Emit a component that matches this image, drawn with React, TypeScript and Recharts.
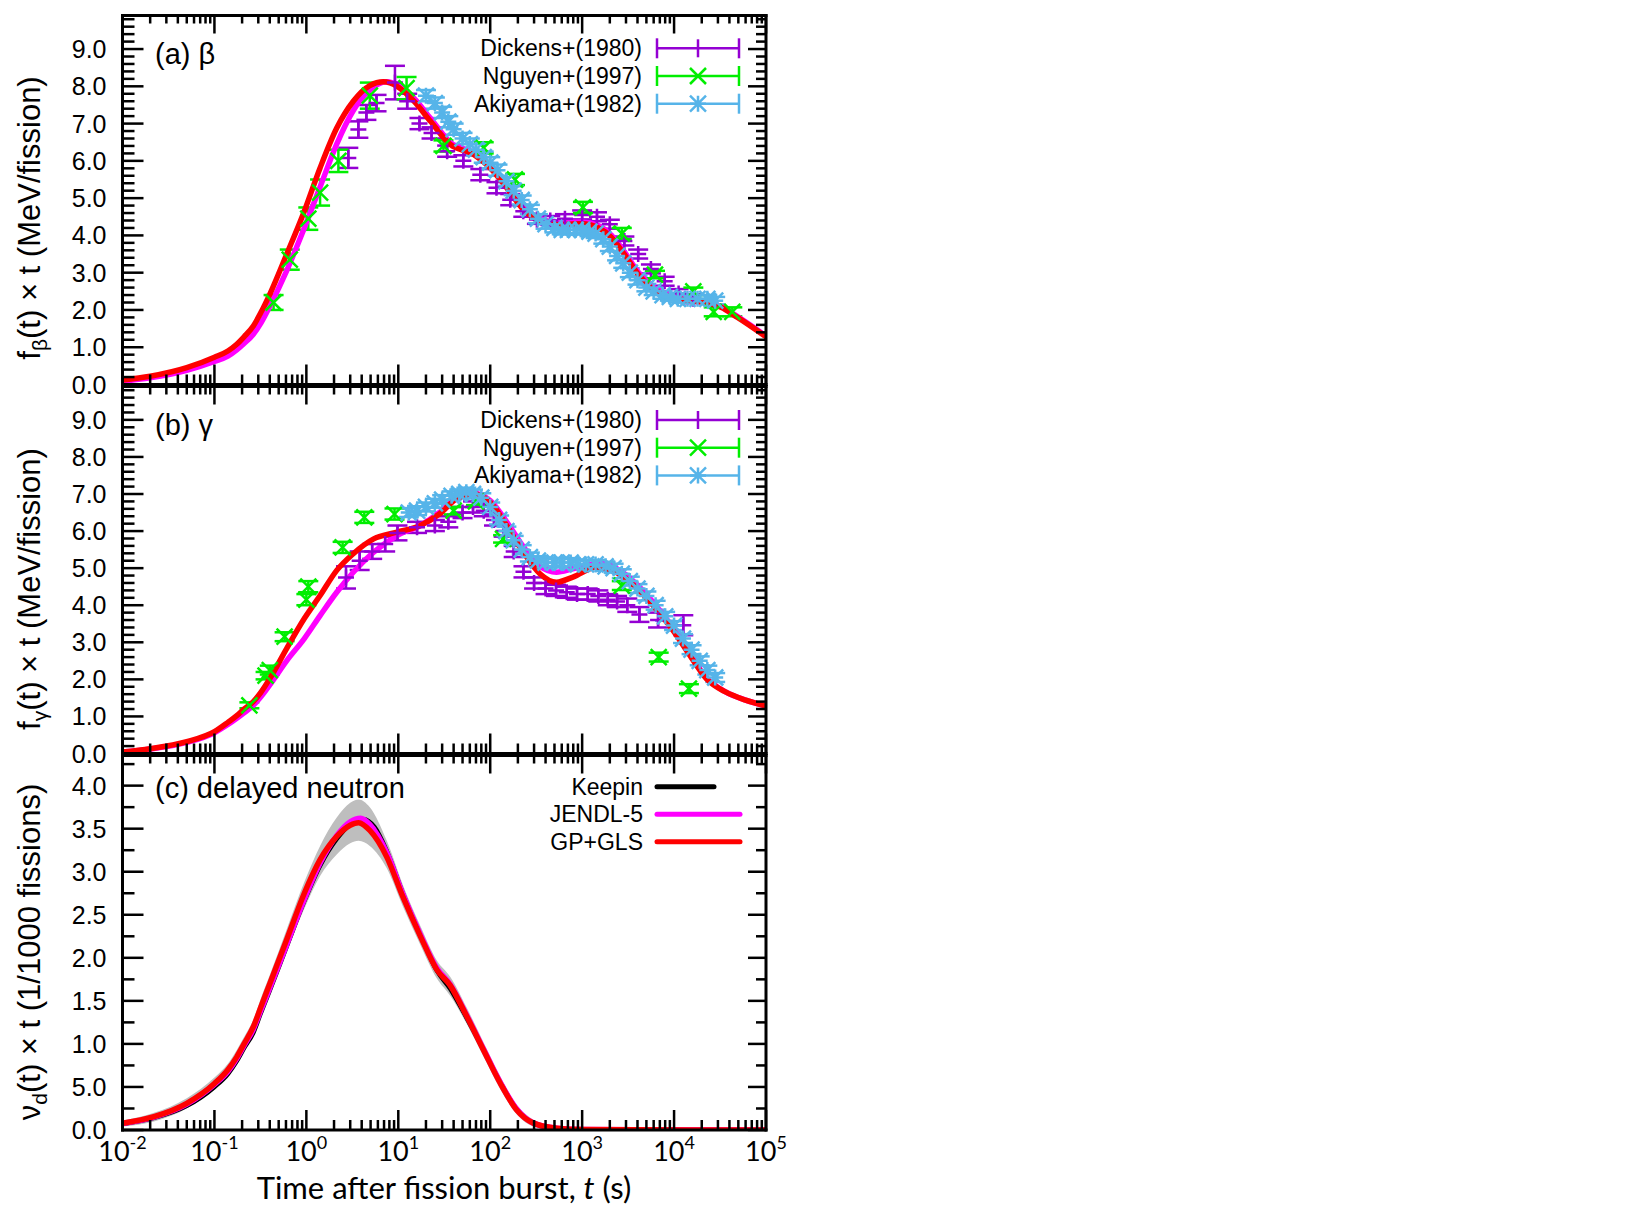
import React from "react";
import { ComposedChart, Line, Scatter, Area, XAxis, YAxis, ErrorBar } from "recharts";

type Pt = { t: number; v: number };
type ErrPt = { t: number; v: number; e: number };
type BandPt = { t: number; band: [number, number] };

// axis ticks
const xDecades = [-2, -1, 0, 1, 2, 3, 4, 5];
const xTickLabels = ["-2", "-1", "0", "1", "2", "3", "4", "5"];
const energyTickLabels = ["0.0", "1.0", "2.0", "3.0", "4.0", "5.0", "6.0", "7.0", "8.0", "9.0"];
const neutronTickLabels = ["0.0", "5.0", "1.0", "1.5", "2.0", "2.5", "3.0", "3.5", "4.0"];

const expLabels = ["Dickens+(1980)", "Nguyen+(1997)", "Akiyama+(1982)"];
const evalLabels = ["Keepin", "JENDL-5", "GP+GLS"];

// (a) beta
const betaGpGls: Pt[] = [
  { t: 0.01, v: 0.12 }, { t: 0.02, v: 0.22 }, { t: 0.05, v: 0.45 }, { t: 0.1, v: 0.73 },
  { t: 0.14, v: 0.9 }, { t: 0.175, v: 1.08 }, { t: 0.21, v: 1.28 }, { t: 0.265, v: 1.57 },
  { t: 0.32, v: 1.93 }, { t: 0.4, v: 2.42 }, { t: 0.61, v: 3.49 },
  { t: 0.95, v: 4.65 }, { t: 1.41, v: 5.81 }, { t: 2.14, v: 6.88 }, { t: 3.24, v: 7.6 },
  { t: 4.9, v: 8.02 }, { t: 6.9, v: 8.12 }, { t: 9.7, v: 8.0 }, { t: 14.8, v: 7.6 },
  { t: 22.4, v: 7.06 }, { t: 36.7, v: 6.44 }, { t: 66, v: 6.17 }, { t: 100, v: 5.81 },
  { t: 151, v: 5.28 }, { t: 229, v: 4.7 }, { t: 347, v: 4.38 }, { t: 531, v: 4.29 },
  { t: 1000, v: 4.31 }, { t: 1480, v: 4.21 }, { t: 2090, v: 3.94 }, { t: 2880, v: 3.49 },
  { t: 4070, v: 2.96 }, { t: 5620, v: 2.6 }, { t: 9770, v: 2.33 }, { t: 18200, v: 2.23 },
  { t: 32400, v: 2.07 }, { t: 49000, v: 1.8 }, { t: 100000, v: 1.28 },
];
const betaJendl: Pt[] = [
  { t: 0.01, v: 0.09 }, { t: 0.02, v: 0.18 }, { t: 0.05, v: 0.38 }, { t: 0.1, v: 0.62 },
  { t: 0.14, v: 0.76 }, { t: 0.175, v: 0.93 }, { t: 0.21, v: 1.1 }, { t: 0.265, v: 1.35 },
  { t: 0.32, v: 1.65 }, { t: 0.4, v: 2.1 }, { t: 0.61, v: 3.05 },
  { t: 0.95, v: 4.2 }, { t: 1.41, v: 5.3 }, { t: 2.14, v: 6.45 }, { t: 3.24, v: 7.35 },
  { t: 4.9, v: 7.9 }, { t: 7.4, v: 8.12 }, { t: 10, v: 8.03 }, { t: 14.8, v: 7.68 },
  { t: 22.4, v: 7.14 }, { t: 36.7, v: 6.5 }, { t: 66, v: 6.22 }, { t: 100, v: 5.88 },
  { t: 151, v: 5.35 }, { t: 229, v: 4.78 }, { t: 347, v: 4.45 }, { t: 531, v: 4.35 },
  { t: 1000, v: 4.36 }, { t: 1480, v: 4.27 }, { t: 2090, v: 4.0 }, { t: 2880, v: 3.56 },
  { t: 4070, v: 3.02 }, { t: 5620, v: 2.66 }, { t: 9770, v: 2.38 }, { t: 18200, v: 2.26 },
  { t: 32400, v: 2.09 }, { t: 49000, v: 1.82 }, { t: 100000, v: 1.3 },
];
const betaDickens: ErrPt[] = [
  { t: 2.86, v: 6.08, e: 0.27 }, { t: 3.68, v: 6.84, e: 0.22 }, { t: 4.5, v: 7.3, e: 0.2 },
  { t: 5.8, v: 7.55, e: 0.22 }, { t: 9.2, v: 8.1, e: 0.45 }, { t: 12.5, v: 7.6, e: 0.2 },
  { t: 17, v: 7.0, e: 0.15 }, { t: 23, v: 6.75, e: 0.15 }, { t: 34, v: 6.26, e: 0.15 },
  { t: 51, v: 6.0, e: 0.15 }, { t: 78, v: 5.63, e: 0.15 }, { t: 117, v: 5.28, e: 0.15 },
  { t: 165, v: 4.96, e: 0.15 }, { t: 229, v: 4.65, e: 0.15 }, { t: 322, v: 4.43, e: 0.12 },
  { t: 450, v: 4.4, e: 0.12 }, { t: 650, v: 4.45, e: 0.12 }, { t: 1000, v: 4.55, e: 0.12 },
  { t: 1450, v: 4.5, e: 0.12 }, { t: 2000, v: 4.3, e: 0.12 }, { t: 2880, v: 3.85, e: 0.12 },
  { t: 4070, v: 3.5, e: 0.12 }, { t: 5600, v: 3.1, e: 0.12 }, { t: 7900, v: 2.77, e: 0.12 },
  { t: 11200, v: 2.44, e: 0.12 }, { t: 16200, v: 2.3, e: 0.12 },
];
const betaNguyen: ErrPt[] = [
  { t: 0.44, v: 2.2, e: 0.2 }, { t: 0.66, v: 3.35, e: 0.27 }, { t: 1.05, v: 4.45, e: 0.3 },
  { t: 1.41, v: 5.15, e: 0.35 }, { t: 2.23, v: 6.0, e: 0.3 }, { t: 4.9, v: 7.75, e: 0.35 },
  { t: 12.3, v: 7.95, e: 0.3 }, { t: 31, v: 6.4, e: 0.15 }, { t: 85, v: 6.35, e: 0.15 },
  { t: 186, v: 5.5, e: 0.15 }, { t: 1020, v: 4.75, e: 0.15 }, { t: 2700, v: 4.05, e: 0.15 },
  { t: 6200, v: 2.95, e: 0.1 }, { t: 16200, v: 2.5, e: 0.1 }, { t: 27000, v: 1.95, e: 0.12 },
  { t: 43000, v: 1.95, e: 0.12 },
];
const betaAkiyama: ErrPt[] = [
  { t: 20, v: 7.75, e: 0.15 }, { t: 25, v: 7.55, e: 0.15 }, { t: 30, v: 7.3, e: 0.15 },
  { t: 35, v: 7.05, e: 0.15 }, { t: 40, v: 6.85, e: 0.15 }, { t: 50, v: 6.6, e: 0.15 },
  { t: 60, v: 6.45, e: 0.15 }, { t: 70, v: 6.3, e: 0.15 }, { t: 85, v: 6.1, e: 0.15 },
  { t: 100, v: 5.95, e: 0.15 }, { t: 120, v: 5.75, e: 0.15 }, { t: 150, v: 5.45, e: 0.12 },
  { t: 180, v: 5.2, e: 0.12 }, { t: 220, v: 4.95, e: 0.12 }, { t: 270, v: 4.7, e: 0.12 },
  { t: 330, v: 4.45, e: 0.12 }, { t: 400, v: 4.3, e: 0.12 }, { t: 500, v: 4.2, e: 0.12 },
  { t: 600, v: 4.15, e: 0.12 }, { t: 700, v: 4.15, e: 0.12 }, { t: 850, v: 4.15, e: 0.12 },
  { t: 1000, v: 4.15, e: 0.12 }, { t: 1200, v: 4.1, e: 0.12 }, { t: 1400, v: 4.05, e: 0.12 },
  { t: 1700, v: 3.9, e: 0.12 }, { t: 2000, v: 3.7, e: 0.12 }, { t: 2400, v: 3.45, e: 0.12 },
  { t: 2800, v: 3.25, e: 0.12 }, { t: 3300, v: 3.0, e: 0.12 }, { t: 4000, v: 2.8, e: 0.12 },
  { t: 5000, v: 2.6, e: 0.1 }, { t: 6000, v: 2.5, e: 0.1 }, { t: 7500, v: 2.4, e: 0.1 },
  { t: 9000, v: 2.35, e: 0.1 }, { t: 11000, v: 2.3, e: 0.1 }, { t: 14000, v: 2.3, e: 0.1 },
  { t: 18000, v: 2.3, e: 0.1 }, { t: 23000, v: 2.3, e: 0.1 }, { t: 28000, v: 2.25, e: 0.1 },
];

// (b) gamma
const gammaGpGls: Pt[] = [
  { t: 0.01, v: 0.04 }, { t: 0.02, v: 0.13 }, { t: 0.05, v: 0.32 }, { t: 0.1, v: 0.59 },
  { t: 0.14, v: 0.84 }, { t: 0.175, v: 1.02 }, { t: 0.21, v: 1.2 }, { t: 0.265, v: 1.4 },
  { t: 0.32, v: 1.65 }, { t: 0.4, v: 2.02 }, { t: 0.61, v: 2.83 },
  { t: 0.95, v: 3.64 }, { t: 1.41, v: 4.26 }, { t: 2.14, v: 4.94 }, { t: 3.24, v: 5.39 },
  { t: 5.4, v: 5.79 }, { t: 9.7, v: 5.97 }, { t: 17.4, v: 6.15 }, { t: 28, v: 6.46 },
  { t: 43, v: 6.87 }, { t: 66, v: 7.0 }, { t: 100, v: 6.78 }, { t: 151, v: 6.15 },
  { t: 229, v: 5.43 }, { t: 347, v: 4.85 }, { t: 525, v: 4.62 }, { t: 794, v: 4.76 },
  { t: 1450, v: 5.03 }, { t: 2340, v: 4.89 }, { t: 4170, v: 4.4 }, { t: 6300, v: 3.91 },
  { t: 10000, v: 3.28 }, { t: 14800, v: 2.65 }, { t: 22400, v: 2.02 }, { t: 36300, v: 1.66 },
  { t: 60000, v: 1.44 }, { t: 100000, v: 1.28 },
];
const gammaJendl: Pt[] = [
  { t: 0.01, v: 0.04 }, { t: 0.02, v: 0.12 }, { t: 0.05, v: 0.3 }, { t: 0.1, v: 0.56 },
  { t: 0.14, v: 0.78 }, { t: 0.175, v: 0.95 }, { t: 0.21, v: 1.1 }, { t: 0.265, v: 1.3 },
  { t: 0.32, v: 1.53 }, { t: 0.4, v: 1.85 }, { t: 0.61, v: 2.5 },
  { t: 0.95, v: 3.1 }, { t: 1.41, v: 3.72 }, { t: 2.14, v: 4.35 }, { t: 3.24, v: 4.89 },
  { t: 5.4, v: 5.43 }, { t: 9.7, v: 5.88 }, { t: 17.4, v: 6.15 }, { t: 28, v: 6.5 },
  { t: 43, v: 6.88 }, { t: 66, v: 7.02 }, { t: 100, v: 6.82 }, { t: 151, v: 6.25 },
  { t: 229, v: 5.58 }, { t: 347, v: 5.05 }, { t: 525, v: 4.89 }, { t: 794, v: 4.98 },
  { t: 1450, v: 5.12 }, { t: 2340, v: 5.0 }, { t: 4170, v: 4.5 }, { t: 6300, v: 4.0 },
  { t: 10000, v: 3.35 }, { t: 14800, v: 2.7 }, { t: 22400, v: 2.05 }, { t: 36300, v: 1.66 },
  { t: 60000, v: 1.44 }, { t: 100000, v: 1.28 },
];
const gammaDickens: ErrPt[] = [
  { t: 2.7, v: 4.75, e: 0.3 }, { t: 3.8, v: 5.2, e: 0.25 }, { t: 5.2, v: 5.45, e: 0.2 },
  { t: 7.2, v: 5.65, e: 0.2 }, { t: 9.8, v: 5.95, e: 0.2 }, { t: 16, v: 6.1, e: 0.15 },
  { t: 25, v: 6.15, e: 0.15 }, { t: 35, v: 6.25, e: 0.15 }, { t: 50, v: 6.5, e: 0.15 },
  { t: 65, v: 6.65, e: 0.15 }, { t: 85, v: 6.55, e: 0.15 }, { t: 110, v: 6.3, e: 0.15 },
  { t: 140, v: 6.0, e: 0.15 }, { t: 180, v: 5.45, e: 0.15 }, { t: 230, v: 4.9, e: 0.15 },
  { t: 300, v: 4.6, e: 0.15 }, { t: 400, v: 4.45, e: 0.15 }, { t: 520, v: 4.4, e: 0.15 },
  { t: 680, v: 4.35, e: 0.15 }, { t: 880, v: 4.3, e: 0.15 }, { t: 1150, v: 4.3, e: 0.15 },
  { t: 1500, v: 4.25, e: 0.15 }, { t: 1900, v: 4.15, e: 0.15 }, { t: 2400, v: 4.1, e: 0.15 },
  { t: 3100, v: 4.0, e: 0.18 }, { t: 4200, v: 3.75, e: 0.2 }, { t: 6700, v: 3.6, e: 0.2 },
  { t: 12600, v: 3.46, e: 0.27 },
];
const gammaNguyen: ErrPt[] = [
  { t: 0.24, v: 1.3, e: 0.08 }, { t: 0.36, v: 2.1, e: 0.1 }, { t: 0.4, v: 2.25, e: 0.12 },
  { t: 0.58, v: 3.15, e: 0.12 }, { t: 1.0, v: 4.15, e: 0.15 }, { t: 1.05, v: 4.5, e: 0.15 },
  { t: 2.48, v: 5.56, e: 0.15 }, { t: 4.27, v: 6.37, e: 0.15 }, { t: 9.1, v: 6.46, e: 0.15 },
  { t: 40, v: 6.55, e: 0.1 }, { t: 70, v: 6.8, e: 0.1 }, { t: 138, v: 5.79, e: 0.1 },
  { t: 2700, v: 4.53, e: 0.12 }, { t: 6800, v: 2.6, e: 0.12 }, { t: 14500, v: 1.75, e: 0.12 },
];
const gammaAkiyama: ErrPt[] = [
  { t: 13, v: 6.5, e: 0.12 }, { t: 16, v: 6.55, e: 0.12 }, { t: 20, v: 6.65, e: 0.12 },
  { t: 25, v: 6.75, e: 0.12 }, { t: 30, v: 6.85, e: 0.12 }, { t: 38, v: 6.95, e: 0.12 },
  { t: 46, v: 7.0, e: 0.12 }, { t: 55, v: 7.05, e: 0.12 }, { t: 65, v: 7.0, e: 0.12 },
  { t: 80, v: 6.9, e: 0.12 }, { t: 100, v: 6.65, e: 0.12 }, { t: 125, v: 6.3, e: 0.12 },
  { t: 150, v: 6.0, e: 0.12 }, { t: 180, v: 5.75, e: 0.12 }, { t: 220, v: 5.5, e: 0.12 },
  { t: 270, v: 5.3, e: 0.12 }, { t: 330, v: 5.2, e: 0.12 }, { t: 400, v: 5.15, e: 0.12 },
  { t: 500, v: 5.15, e: 0.12 }, { t: 600, v: 5.15, e: 0.12 }, { t: 750, v: 5.15, e: 0.12 },
  { t: 900, v: 5.1, e: 0.12 }, { t: 1100, v: 5.1, e: 0.12 }, { t: 1400, v: 5.1, e: 0.12 },
  { t: 1800, v: 5.05, e: 0.12 }, { t: 2200, v: 5.0, e: 0.12 }, { t: 2700, v: 4.85, e: 0.12 },
  { t: 3300, v: 4.65, e: 0.12 }, { t: 4000, v: 4.45, e: 0.12 }, { t: 5000, v: 4.25, e: 0.12 },
  { t: 6300, v: 4.0, e: 0.12 }, { t: 8000, v: 3.7, e: 0.12 }, { t: 10000, v: 3.45, e: 0.12 },
  { t: 12500, v: 3.1, e: 0.12 }, { t: 15500, v: 2.8, e: 0.12 }, { t: 19000, v: 2.5, e: 0.12 },
  { t: 23000, v: 2.25, e: 0.12 }, { t: 28000, v: 2.05, e: 0.12 },
];

// (c) delayed neutron
const neutronKeepin: Pt[] = [
  { t: 0.01, v: 0.07 }, { t: 0.022, v: 0.14 }, { t: 0.05, v: 0.28 }, { t: 0.1, v: 0.5 },
  { t: 0.14, v: 0.65 }, { t: 0.175, v: 0.8 }, { t: 0.21, v: 0.95 }, { t: 0.265, v: 1.13 },
  { t: 0.32, v: 1.36 }, { t: 0.4, v: 1.62 }, { t: 0.61, v: 2.13 },
  { t: 0.95, v: 2.66 }, { t: 1.41, v: 3.07 }, { t: 2.14, v: 3.38 }, { t: 3.0, v: 3.55 },
  { t: 4.2, v: 3.61 }, { t: 5.5, v: 3.52 }, { t: 7.5, v: 3.24 }, { t: 11.2, v: 2.75 },
  { t: 17.4, v: 2.27 }, { t: 26.3, v: 1.85 }, { t: 36.7, v: 1.64 }, { t: 55.6, v: 1.3 },
  { t: 84.5, v: 0.93 }, { t: 129, v: 0.55 }, { t: 195, v: 0.24 }, { t: 295, v: 0.08 },
  { t: 530, v: 0.02 }, { t: 1000, v: 0.005 }, { t: 100000, v: 0 },
];
const neutronJendl: Pt[] = [
  { t: 0.01, v: 0.075 }, { t: 0.022, v: 0.15 }, { t: 0.05, v: 0.3 }, { t: 0.1, v: 0.53 },
  { t: 0.14, v: 0.68 }, { t: 0.175, v: 0.83 }, { t: 0.21, v: 0.98 }, { t: 0.265, v: 1.17 },
  { t: 0.32, v: 1.39 }, { t: 0.4, v: 1.65 }, { t: 0.61, v: 2.15 },
  { t: 0.95, v: 2.68 }, { t: 1.41, v: 3.1 }, { t: 2.14, v: 3.42 }, { t: 3.0, v: 3.58 },
  { t: 3.9, v: 3.62 }, { t: 4.9, v: 3.55 }, { t: 7.5, v: 3.22 }, { t: 11.2, v: 2.74 },
  { t: 17.4, v: 2.27 }, { t: 26.3, v: 1.88 }, { t: 36.7, v: 1.69 }, { t: 55.6, v: 1.33 },
  { t: 84.5, v: 0.94 }, { t: 129, v: 0.55 }, { t: 195, v: 0.24 }, { t: 295, v: 0.08 },
  { t: 530, v: 0.02 }, { t: 1000, v: 0.005 }, { t: 100000, v: 0 },
];
const neutronGpGls: Pt[] = [
  { t: 0.01, v: 0.078 }, { t: 0.022, v: 0.155 }, { t: 0.05, v: 0.31 }, { t: 0.1, v: 0.54 },
  { t: 0.14, v: 0.7 }, { t: 0.175, v: 0.85 }, { t: 0.21, v: 1.0 }, { t: 0.265, v: 1.2 },
  { t: 0.32, v: 1.43 }, { t: 0.4, v: 1.7 }, { t: 0.61, v: 2.21 },
  { t: 0.95, v: 2.75 }, { t: 1.41, v: 3.14 }, { t: 2.14, v: 3.41 }, { t: 3.0, v: 3.54 },
  { t: 3.7, v: 3.57 }, { t: 4.9, v: 3.48 }, { t: 7.5, v: 3.17 }, { t: 11.2, v: 2.71 },
  { t: 17.4, v: 2.25 }, { t: 26.3, v: 1.86 }, { t: 36.7, v: 1.68 }, { t: 55.6, v: 1.32 },
  { t: 84.5, v: 0.93 }, { t: 129, v: 0.54 }, { t: 195, v: 0.23 }, { t: 295, v: 0.08 },
  { t: 530, v: 0.02 }, { t: 1000, v: 0.005 }, { t: 100000, v: 0 },
];
const neutronBand: BandPt[] = [
  { t: 0.01, band: [0.04, 0.11] }, { t: 0.022, band: [0.1, 0.2] }, { t: 0.05, band: [0.25, 0.37] },
  { t: 0.1, band: [0.47, 0.61] }, { t: 0.14, band: [0.63, 0.77] }, { t: 0.175, band: [0.77, 0.93] },
  { t: 0.21, band: [0.92, 1.08] }, { t: 0.265, band: [1.1, 1.28] }, { t: 0.32, band: [1.33, 1.53] },
  { t: 0.4, band: [1.58, 1.8] }, { t: 0.61, band: [2.07, 2.33] }, { t: 0.95, band: [2.57, 2.88] },
  { t: 1.41, band: [2.95, 3.3] }, { t: 2.14, band: [3.2, 3.63] }, { t: 3.0, band: [3.33, 3.8] },
  { t: 3.7, band: [3.36, 3.84] }, { t: 4.9, band: [3.3, 3.75] }, { t: 7.5, band: [3.04, 3.36] },
  { t: 11.2, band: [2.6, 2.85] }, { t: 17.4, band: [2.15, 2.37] }, { t: 26.3, band: [1.76, 1.97] },
  { t: 36.7, band: [1.56, 1.78] }, { t: 55.6, band: [1.23, 1.42] }, { t: 84.5, band: [0.85, 1.02] },
  { t: 129, band: [0.47, 0.62] }, { t: 195, band: [0.18, 0.29] }, { t: 295, band: [0.04, 0.12] },
  { t: 530, band: [0, 0.04] }, { t: 1000, band: [0, 0.01] },
];

const RED = "#ff0000";
const MAGENTA = "#ff00ff";
const PURPLE = "#9400d3";
const GREEN = "#00ee00";
const SKY = "#56b4e9";
const GRAY = "#bebebe";

const SANS = "'Liberation Sans', Arial, sans-serif";
const X_FONT = "Lato, 'Open Sans', sans-serif";

const X_DOMAIN: [number, number] = [0.01, 100000];
const xMajor = xDecades.map((d) => Math.pow(10, d));
const xMinor = xDecades
  .slice(0, -1)
  .flatMap((d) => [2, 3, 4, 5, 6, 7, 8, 9].map((m) => m * Math.pow(10, d)));
const xTicks = [...xMajor, ...xMinor].sort((a, b) => a - b);

const energyMajor = energyTickLabels.map((_, i) => i);
const energyTicks = Array.from({ length: 50 }, (_, i) => i / 5);
const neutronMajor = neutronTickLabels.map((_, i) => i / 2);
const neutronTicks = Array.from({ length: 18 }, (_, i) => i / 4);

const FRAME = { stroke: "#000", strokeWidth: 3, strokeLinecap: "square" as const };
const TICK_W = 2.5;

const xIndex = (v: number) => xMajor.findIndex((m) => Math.abs(m - v) < m * 1e-6);
const yIndex = (v: number, majors: number[]) => majors.findIndex((m) => Math.abs(m - v) < 1e-6);

function BottomTick(p: any) {
  const { x, y, payload, showLabels } = p;
  const i = xIndex(payload.value);
  const len = i >= 0 ? 20 : 10;
  return (
    <g>
      <line x1={x} x2={x} y1={y} y2={y - len} stroke="#000" strokeWidth={TICK_W} />
      {showLabels && i >= 0 && (
        <text x={x} y={y + 31} textAnchor="middle" fontFamily={X_FONT} fontSize={27} fill="#000">
          10
          <tspan dy={-12} fontSize={18}>
            {xTickLabels[i]}
          </tspan>
        </text>
      )}
    </g>
  );
}

function TopTick(p: any) {
  const { x, y, payload } = p;
  const len = xIndex(payload.value) >= 0 ? 18 : 8;
  return <line x1={x} x2={x} y1={y} y2={y + len} stroke="#000" strokeWidth={TICK_W} />;
}

function LeftTick(p: any) {
  const { x, y, payload, majors, labels } = p;
  const i = yIndex(payload.value, majors);
  const len = i >= 0 ? 21 : 12;
  return (
    <g>
      <line x1={x} x2={x + len} y1={y} y2={y} stroke="#000" strokeWidth={TICK_W} />
      {i >= 0 && (
        <text x={x - 16} y={y} dy="0.36em" textAnchor="end" fontFamily={SANS} fontSize={25} fill="#000">
          {labels[i]}
        </text>
      )}
    </g>
  );
}

function RightTick(p: any) {
  const { x, y, payload, majors } = p;
  const len = yIndex(payload.value, majors) >= 0 ? 18 : 10;
  return <line x1={x} x2={x - len} y1={y} y2={y} stroke="#000" strokeWidth={TICK_W} />;
}

type Kind = "plus" | "cross" | "star";
function markPath(kind: Kind, cx: number, cy: number) {
  const s = 8;
  const plus = `M${cx - s},${cy}H${cx + s}M${cx},${cy - s}V${cy + s}`;
  const cross = `M${cx - s},${cy - s}L${cx + s},${cy + s}M${cx - s},${cy + s}L${cx + s},${cy - s}`;
  if (kind === "plus") return plus;
  if (kind === "cross") return cross;
  return plus + cross;
}

const markShape = (kind: Kind, color: string) => (p: any) =>
  <path d={markPath(kind, p.cx, p.cy)} stroke={color} strokeWidth={2.5} fill="none" />;

function expSeries(data: ErrPt[], kind: Kind, color: string, key: string) {
  return (
    <Scatter key={key} data={data} dataKey="v" shape={markShape(kind, color)} isAnimationActive={false}>
      <ErrorBar dataKey="e" direction="y" width={10} stroke={color} strokeWidth={2.5} />
    </Scatter>
  );
}

function curve(data: Pt[], color: string, width: number, key: string) {
  return (
    <Line
      key={key}
      data={data}
      dataKey="v"
      type="monotone"
      stroke={color}
      strokeWidth={width}
      strokeLinecap="round"
      dot={false}
      activeDot={false}
      isAnimationActive={false}
    />
  );
}

type PanelProps = {
  top: number;
  height: number;
  plotTop: number;
  plotBottom: number;
  yMax: number;
  yTicks: number[];
  yMajors: number[];
  yLabels: string[];
  showXLabels?: boolean;
  children: React.ReactNode;
};

// plot area spans x 122.5 .. 766 in page coordinates; each axis takes 1px outside it
function Panel({ top, height, plotTop, plotBottom, yMax, yTicks, yMajors, yLabels, showXLabels, children }: PanelProps) {
  const margin = { top: plotTop - 1, right: 800 - 766 - 1, bottom: height - plotBottom - 1, left: 122.5 - 1 };
  return (
    <div style={{ position: "absolute", left: 0, top }}>
      <ComposedChart width={800} height={height} margin={margin}>
        <XAxis
          dataKey="t"
          type="number"
          scale="log"
          domain={X_DOMAIN}
          allowDataOverflow
          ticks={xTicks}
          interval={0}
          height={1}
          tickSize={0}
          tickMargin={0}
          tickLine={false}
          axisLine={FRAME}
          tick={(p: any) => <BottomTick {...p} showLabels={showXLabels} />}
        />
        <XAxis
          xAxisId="top"
          orientation="top"
          dataKey="t"
          type="number"
          scale="log"
          domain={X_DOMAIN}
          allowDataOverflow
          ticks={xTicks}
          interval={0}
          height={1}
          tickSize={0}
          tickMargin={0}
          tickLine={false}
          axisLine={FRAME}
          tick={(p: any) => <TopTick {...p} />}
        />
        <YAxis
          type="number"
          domain={[0, yMax]}
          allowDataOverflow
          ticks={yTicks}
          interval={0}
          width={1}
          tickSize={0}
          tickMargin={0}
          tickLine={false}
          axisLine={FRAME}
          tick={(p: any) => <LeftTick {...p} majors={yMajors} labels={yLabels} />}
        />
        <YAxis
          yAxisId="right"
          orientation="right"
          type="number"
          domain={[0, yMax]}
          allowDataOverflow
          ticks={yTicks}
          interval={0}
          width={1}
          tickSize={0}
          tickMargin={0}
          tickLine={false}
          axisLine={FRAME}
          tick={(p: any) => <RightTick {...p} majors={yMajors} />}
        />
        {children}
      </ComposedChart>
    </div>
  );
}

function ErrLegend({ y0, labelsShown }: { y0: number; labelsShown: string[] }) {
  const colors = [PURPLE, GREEN, SKY];
  const kinds: Kind[] = ["plus", "cross", "star"];
  return (
    <g>
      {labelsShown.map((name, i) => {
        const y = y0 + i * 27.7;
        return (
          <g key={name}>
            <text x={642} y={y + 8} textAnchor="end" fontFamily={SANS} fontSize={23} fill="#000">
              {name}
            </text>
            <g stroke={colors[i]} strokeWidth={2.5} fill="none">
              <line x1={657} x2={739} y1={y} y2={y} />
              <line x1={657} x2={657} y1={y - 10} y2={y + 10} />
              <line x1={739} x2={739} y1={y - 10} y2={y + 10} />
              {i === 0 ? (
                <line x1={698} x2={698} y1={y - 9} y2={y + 9} />
              ) : (
                <path d={markPath(kinds[i], 698, y)} />
              )}
            </g>
          </g>
        );
      })}
    </g>
  );
}

function LineLegend({ y0 }: { y0: number }) {
  const colors = ["#000", MAGENTA, RED];
  const ends = [714, 740, 740];
  return (
    <g>
      {evalLabels.map((name, i) => {
        const y = y0 + i * 27.5;
        return (
          <g key={name}>
            <text x={643} y={y + 8} textAnchor="end" fontFamily={SANS} fontSize={23} fill="#000">
              {name}
            </text>
            <line x1={657} x2={ends[i]} y1={y} y2={y} stroke={colors[i]} strokeWidth={5} strokeLinecap="round" />
          </g>
        );
      })}
    </g>
  );
}

export default function App() {
  return (
    <div style={{ position: "absolute", left: 0, top: 0, width: 1627, height: 1221, background: "#fff" }}>
      <Panel top={0} height={400} plotTop={15.5} plotBottom={384.5} yMax={9.9} yTicks={energyTicks} yMajors={energyMajor} yLabels={energyTickLabels}>
        {expSeries(betaDickens, "plus", PURPLE, "bd")}
        {expSeries(betaNguyen, "cross", GREEN, "bn")}
        {expSeries(betaAkiyama, "star", SKY, "ba")}
        {curve(betaJendl, MAGENTA, 5.5, "bj")}
        {curve(betaGpGls, RED, 5.5, "bg")}
      </Panel>
      <Panel top={370} height={400} plotTop={16.5} plotBottom={383.5} yMax={9.9} yTicks={energyTicks} yMajors={energyMajor} yLabels={energyTickLabels}>
        {expSeries(gammaDickens, "plus", PURPLE, "gd")}
        {expSeries(gammaNguyen, "cross", GREEN, "gn")}
        {expSeries(gammaAkiyama, "star", SKY, "ga")}
        {curve(gammaJendl, MAGENTA, 5.5, "gj")}
        {curve(gammaGpGls, RED, 5.5, "gg")}
      </Panel>
      <Panel top={740} height={481} plotTop={15.5} plotBottom={390} yMax={4.35} yTicks={neutronTicks} yMajors={neutronMajor} yLabels={neutronTickLabels} showXLabels>
        <Area
          data={neutronBand}
          dataKey="band"
          type="monotone"
          stroke="none"
          fill={GRAY}
          fillOpacity={1}
          dot={false}
          activeDot={false}
          isAnimationActive={false}
        />
        {curve(neutronKeepin, "#000", 4.5, "nk")}
        {curve(neutronJendl, MAGENTA, 5.5, "nj")}
        {curve(neutronGpGls, RED, 5.5, "ng")}
      </Panel>
      <svg width={1627} height={1221} style={{ position: "absolute", left: 0, top: 0, pointerEvents: "none" }}>
        <text x={155} y={64} fontFamily={SANS} fontSize={29} fill="#000">(a) β</text>
        <text x={155} y={435} fontFamily={SANS} fontSize={29} fill="#000">(b) γ</text>
        <text x={155} y={798} fontFamily={SANS} fontSize={29} fill="#000">(c) delayed neutron</text>
        <ErrLegend y0={48.3} labelsShown={expLabels} />
        <ErrLegend y0={420} labelsShown={expLabels} />
        <LineLegend y0={786.7} />
        <text transform="translate(40,218) rotate(-90)" textAnchor="middle" fontFamily={SANS} fontSize={31} fill="#000">
          f<tspan dy={7} fontSize={21}>β</tspan>
          <tspan dy={-7}>(t) × t (MeV/fission)</tspan>
        </text>
        <text transform="translate(40,589) rotate(-90)" textAnchor="middle" fontFamily={SANS} fontSize={31} fill="#000">
          f<tspan dy={7} fontSize={21}>γ</tspan>
          <tspan dy={-7}>(t) × t (MeV/fission)</tspan>
        </text>
        <text transform="translate(40,952) rotate(-90)" textAnchor="middle" fontFamily={SANS} fontSize={31} fill="#000">
          ν<tspan dy={7} fontSize={21}>d</tspan>
          <tspan dy={-7}>(t) × t (1/1000 fissions)</tspan>
        </text>
        <text x={444} y={1199} textAnchor="middle" fontFamily={X_FONT} fontSize={31} fill="#000">
          Time after fission burst, <tspan fontStyle="italic">t</tspan> (s)
        </text>
      </svg>
    </div>
  );
}
